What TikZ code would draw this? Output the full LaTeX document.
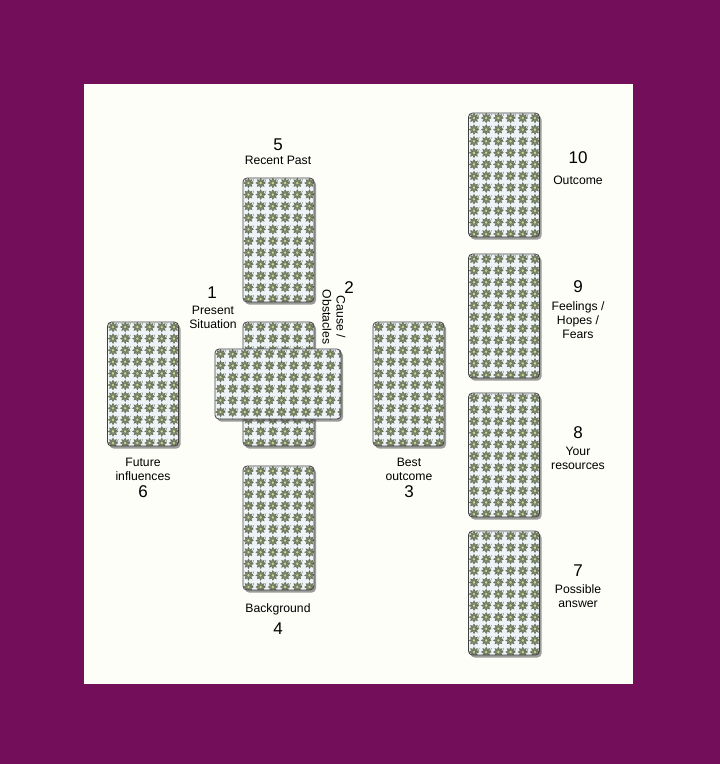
\documentclass[tikz,border=0pt]{standalone}
\usepackage{fontspec}
\setmainfont{Liberation Sans}
\usetikzlibrary{shadows}
\definecolor{frame}{HTML}{720E5A}
\definecolor{panel}{HTML}{FDFEF8}
\definecolor{petal}{HTML}{8E9A7A}
\definecolor{petaledge}{HTML}{66705A}
\definecolor{cardbg}{HTML}{EEF3F8}
\definecolor{core}{HTML}{D4D69A}
\tikzset{
  flower/.pic={
    \fill[petal,draw=petaledge,line width=0.2pt] (0:5.4)
      \foreach \a in {22.5,67.5,...,337.5}{ -- (\a:1.0) -- ({\a+22.5}:5.4)} -- cycle;
    \fill[core] (0,0) circle (1.2);
  },
  card/.style={draw=black!75, line width=0.8pt, rounded corners=4pt, inner sep=0pt,
    fill=cardbg, drop shadow={shadow xshift=2pt, shadow yshift=-2.5pt, fill=black!70, opacity=.55},
    path picture={
      \foreach \i in {0,...,10}{
        \foreach \j in {0,...,10}{
          \pic at ([shift={(\i*12.2+5.5,\j*11.6+5)}]path picture bounding box.north west) {flower};
        }
      }
    }},
  cardv/.style={card, minimum width=71pt, minimum height=124pt},
  cardh/.style={card, minimum width=126pt, minimum height=70pt},
  num/.style={font=\fontsize{17}{19}\selectfont, inner sep=0pt},
  lab/.style={font=\fontsize{12.2}{14.2}\selectfont, align=center, inner sep=0pt},
}
\begin{document}
\begin{tikzpicture}[x=1pt,y=-1pt]
\fill[frame] (0,0) rectangle (720,764);
\useasboundingbox (0,0) rectangle (720,764);
\fill[panel] (84,84) rectangle (633,684);

% cross
\node[cardv] (c5) at (278.5,240) {};
\node[cardv] (c1) at (278.5,384) {};
\node[cardh] (c2) at (278,384) {};
\node[cardv] (c6) at (143,384) {};
\node[cardv] (c3) at (408.5,384) {};
\node[cardv] (c4) at (278.5,528) {};
% staff
\node[cardv] (c10) at (504,175) {};
\node[cardv] (c9) at (504,316) {};
\node[cardv] (c8) at (504,455) {};
\node[cardv] (c7) at (504,593) {};

% labels
\node[num] (n5) at (278,145) {5};
\node[lab] (l5) at (278,160) {Recent Past};
\node[num] (n1) at (212,293) {1};
\node[lab] (l1) at (213,317) {Present\\Situation};
\node[num] (n2) at (349,288) {2};
\node[lab, rotate=-90] (l2) at (334,317) {Cause /\\Obstacles};
\node[lab] (l6) at (143,469) {Future\\influences};
\node[num] (n6) at (143,492) {6};
\node[lab] (l3) at (409,469) {Best\\outcome};
\node[num] (n3) at (409,492) {3};
\node[lab] (l4) at (278,609) {Background};
\node[num] (n4) at (278,629) {4};
\node[num] (n10) at (578,158) {10};
\node[lab] (l10) at (578,180) {Outcome};
\node[num] (n9) at (578,287) {9};
\node[lab] (l9) at (578,320) {Feelings /\\Hopes /\\Fears};
\node[num] (n8) at (578,433) {8};
\node[lab] (l8) at (578,458) {Your\\resources};
\node[num] (n7) at (578,571) {7};
\node[lab] (l7) at (578,596) {Possible\\answer};
\end{tikzpicture}
\end{document}
